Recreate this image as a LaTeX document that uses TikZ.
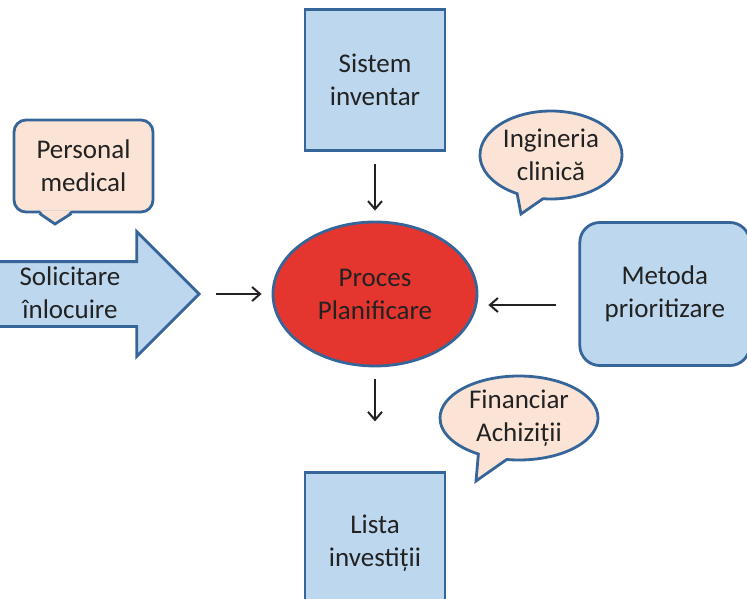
\documentclass[tikz,border=0pt]{standalone}
\usepackage{fontspec}
\setmainfont{Carlito}
\usetikzlibrary{positioning, shapes.geometric, shapes.arrows, shapes.callouts, arrows.meta}
\definecolor{boxblue}{HTML}{BDD7EE}
\definecolor{edgeblue}{HTML}{36659A}
\definecolor{peach}{HTML}{FBE4D6}
\definecolor{procred}{HTML}{E5352F}
\definecolor{ink}{HTML}{222222}
\tikzset{
    base/.style={draw=edgeblue, line width=2.8pt, text=ink, align=center, inner sep=0pt, font=\fontsize{27}{33}\selectfont},
    block/.style={base, rectangle, fill=boxblue, minimum width=140pt, minimum height=141pt},
    rblock/.style={block, rounded corners=20pt, minimum width=170pt, minimum height=143pt},
    procnode/.style={base, ellipse, fill=procred, minimum width=204pt, minimum height=144pt},
    note/.style={base, rectangle, rounded corners=12pt, fill=peach, minimum width=139pt, minimum height=92pt},
    bubble/.style={base, ellipse callout, fill=peach, callout pointer arc=22},
    bigarrow/.style={base, single arrow, fill=boxblue, inner ysep=31pt, single arrow head extend=30pt, single arrow head indent=0pt, minimum height=212pt},
    lbl/.style={text=ink, align=center, inner sep=0pt, font=\fontsize{27}{33}\selectfont},
    flow/.style={-{Straight Barb[length=8pt,width=14pt]}, line width=2pt, draw=ink}
}

\begin{document}
\begin{tikzpicture}[x=1pt, y=-1pt]
    \clip (0,0) rectangle (747,599);
    \node[procnode] (proc) at (375,294) {Proces\\Planificare};
    \node[block, above=69pt of proc] (sys) {Sistem\\inventar};
    \node[block, below=104pt of proc] (lst) {Lista\\investiții};
    \node[rblock, right=100pt of proc] (met) {Metoda\\prioritizare};
    \node[bigarrow] (req) at (77,294) {};
    \node[lbl] (reqtxt) at (70,293) {Solicitare\\înlocuire};
    % ---- callouts
    \node[note] (pers) at (83.5,166) {Personal\\medical};
    \coordinate (perstip) at (55,224);
    \fill[peach] ([shift={(-44,-3)}]pers.south) -- (perstip) -- ([shift={(-12,-3)}]pers.south) -- cycle;
    \draw[edgeblue, line width=2.8pt, line join=miter] ([xshift=-44pt]pers.south) -- (perstip) -- ([xshift=-12pt]pers.south);
    \node[bubble, minimum width=142pt, minimum height=88pt, callout absolute pointer={(521,214)}] (ing) at (551,155) {Ingineria\\clinică};
    \node[bubble, minimum width=158pt, minimum height=84pt, callout absolute pointer={(476,481)}] (fin) at (519,418) {Financiar\\Achiziții};
    % ---- arrows
    \draw[flow] ([yshift=-12pt]sys.south) -- ([yshift=10pt]proc.north);
    \draw[flow] ([xshift=15pt]req.tip) -- ([xshift=-10pt]proc.west);
    \draw[flow] ([shift={(-22,11)}]met.west) -- ([shift={(10,11)}]proc.east);
    \draw[flow] ([yshift=-12pt]proc.south) -- ([yshift=50pt]lst.north);
\end{tikzpicture}
\end{document}
